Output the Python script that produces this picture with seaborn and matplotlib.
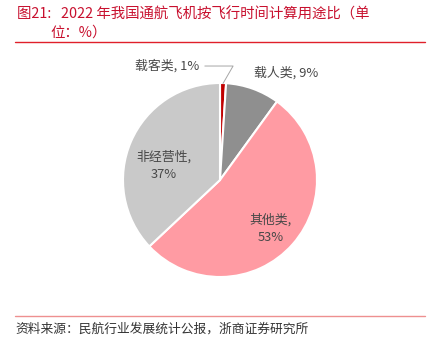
import matplotlib
matplotlib.use("Agg")
import matplotlib.pyplot as plt
import seaborn as sns
from matplotlib.lines import Line2D

sns.set_style("white")
plt.rcParams['font.family'] = ['Noto Sans CJK SC', 'DejaVu Sans']

categories = ["载客类", "载人类", "其他类", "非经营性"]
values = [1, 9, 53, 37]
colors = ["#C00000", "#8F8F8F", "#FF9BA3", "#C9C9C9"]
label_texts = ["载客类, 1%", "载人类, 9%", "其他类,\n53%", "非经营性,\n37%"]
label_pos = [(-0.55, 1.175), (0.68, 1.10), (0.52, -0.50), (-0.58, 0.15)]

W, H = 428, 353
fig = plt.figure(figsize=(W / 100, H / 100), dpi=100)

cx, cy, r = 220, 180, 97
ax = fig.add_axes([(cx - r) / W, (H - cy - r) / H, 2 * r / W, 2 * r / H])
wedges, _ = ax.pie(values, colors=colors, startangle=90, counterclock=False,
                   wedgeprops=dict(edgecolor="white", linewidth=1.5))
ax.set_xlim(-1, 1)
ax.set_ylim(-1, 1)
ax.set_aspect("equal")
ax.axis("off")

for i, (txt, (x, y)) in enumerate(zip(label_texts, label_pos)):
    if i == 0:
        ax.annotate(txt, xy=(0.031, 0.995), xytext=(x, y), ha="center", va="center",
                    fontsize=9.3, color="#484848",
                    arrowprops=dict(arrowstyle="-", color="#A6A6A6", lw=0.7,
                                    shrinkA=2, shrinkB=0,
                                    connectionstyle="angle,angleA=0,angleB=60,rad=0",
                                    relpos=(1.0, 0.5)),
                    annotation_clip=False)
    else:
        ax.text(x, y, txt, ha="center", va="center", fontsize=9.3,
                color="#484848", linespacing=1.45, clip_on=False)

red = "#C8102E"
fig.text(17 / W, 1 - 14 / H, "图21:   2022 年我国通航飞机按飞行时间计算用途比（单",
         color=red, fontsize=10.4, ha="left", va="center")
fig.text(50 / W, 1 - 33 / H, "位：%）", color=red, fontsize=10.4, ha="left", va="center")
fig.add_artist(Line2D([15 / W, 425 / W], [1 - 42 / H, 1 - 42 / H],
                      transform=fig.transFigure, color="#E0202A", lw=1.0))
fig.add_artist(Line2D([15 / W, 425 / W], [1 - 316 / H, 1 - 316 / H],
                      transform=fig.transFigure, color="#EE9090", lw=1.0))
fig.text(15 / W, 1 - 329 / H, "资料来源：民航行业发展统计公报，浙商证券研究所",
         color="#333333", fontsize=9.2, ha="left", va="center")

fig.savefig("out.png", dpi=100)
